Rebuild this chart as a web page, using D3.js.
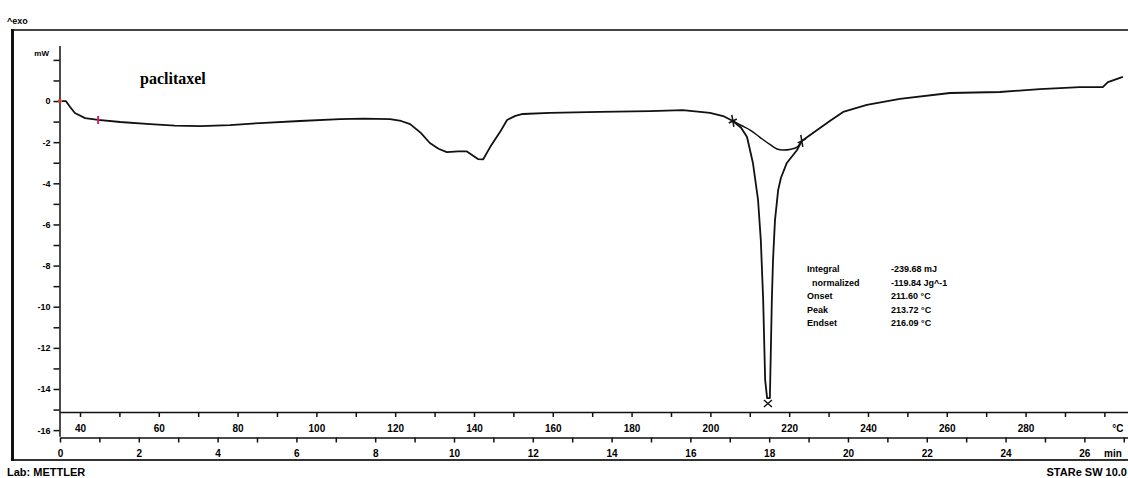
<!DOCTYPE html>
<html>
<head>
<meta charset="utf-8">
<script src="https://cdn.jsdelivr.net/npm/d3@7"></script>
<style>
  body { margin: 0; background: #fff; }
  text { font-family: "Liberation Sans", Arial, sans-serif; }
</style>
</head>
<body>
<div id="dsc_div"></div>
<script>
// DSC curve (temperature in °C, heat flow in mW)
var tempC = [35.4, 36.4, 37.5, 38.7, 41.3, 44.6, 50.2, 57.8, 64.1, 70.5, 78.1, 85.7, 95.8, 106.0, 112.0, 118.7,
  121.5, 123.8, 126.5, 128.8, 131.0, 133.1, 136.0, 138.2, 141.0, 142.3, 144.1, 146.6, 148.4, 150.5, 152.4, 159.3,
  172.0, 184.7, 193.0, 199.9, 203.5, 205.7, 207.8, 209.3, 210.8, 212.1, 212.8, 213.4, 213.9, 214.4, 215.1, 215.4,
  215.6, 215.9, 216.4, 217.2, 217.9, 219.4, 222.0, 223.2, 227.1, 230.5, 233.7, 239.7, 248.1, 260.8, 273.5, 283.6,
  293.8, 299.6, 300.9, 304.7];
var heatFlow = [0.0, 0.0, -0.29, -0.58, -0.83, -0.92, -1.02, -1.12, -1.2, -1.22, -1.17, -1.07, -0.97, -0.88, -0.86, -0.88,
  -0.97, -1.12, -1.55, -2.04, -2.32, -2.48, -2.45, -2.45, -2.82, -2.84, -2.24, -1.51, -0.92, -0.72, -0.63, -0.58,
  -0.53, -0.49, -0.44, -0.58, -0.75, -0.97, -1.3, -1.75, -3.01, -4.81, -6.76, -9.67, -13.56, -14.44, -14.44, -11.62,
  -9.67, -7.73, -5.79, -4.33, -3.74, -3.01, -2.38, -1.94, -1.41, -0.95, -0.53, -0.19, 0.10, 0.39, 0.44, 0.58,
  0.68, 0.68, 0.92, 1.17];

// integration baseline under the melting peak
var baseT = [205.7, 208.0, 210.1, 212.5, 215.0, 216.9, 218.4, 220.5, 222.0, 223.2];
var baseHF = [-0.97, -1.2, -1.41, -1.75, -2.1, -2.33, -2.38, -2.34, -2.24, -1.94];

// axis ticks
var tempTicks = d3.range(40, 301, 10);
var tempLabels = [40, 60, 80, 100, 120, 140, 160, 180, 200, 220, 240, 260, 280];
var minTicks = d3.range(0, 28, 1);
var minLabels = [0, 2, 4, 6, 8, 10, 12, 14, 16, 18, 20, 22, 24, 26];
var hfTicks = d3.range(2, -17, -1);
var hfLabels = [0, -2, -4, -6, -8, -10, -12, -14, -16];

// evaluation text
var evalNames = ["Integral", "  normalized", "Onset", "Peak", "Endset"];
var evalValues = ["-239.68 mJ", "-119.84 Jg^-1", "211.60 °C", "213.72 °C", "216.09 °C"];

var W = 1128, H = 478;
var svg = d3.select("#dsc_div").append("svg")
  .attr("width", W).attr("height", H);

// scales
var x = d3.scaleLinear().domain([34.8, 306.2]).range([59.5, 1128.8]);
var y = d3.scaleLinear().domain([2.7, -16.3]).range([45.5, 436.3]);
var t = d3.scaleLinear().domain([0, 27.1]).range([60, 1127.7]);

// frame
svg.append("line").attr("x1", 12).attr("x2", W).attr("y1", 30).attr("y2", 30)
  .attr("stroke", "#444").attr("stroke-width", 2);
svg.append("line").attr("x1", 12).attr("x2", W).attr("y1", 460).attr("y2", 460)
  .attr("stroke", "#333").attr("stroke-width", 2);
svg.append("line").attr("x1", 12.5).attr("x2", 12.5).attr("y1", 29).attr("y2", 461)
  .attr("stroke", "#111").attr("stroke-width", 3);

// y axis
var yAxis = svg.append("g")
  .attr("transform", "translate(59.5,0)")
  .call(d3.axisLeft(y).tickValues(hfTicks).tickSize(6).tickSizeOuter(0).tickPadding(3)
    .tickFormat(function(d) { return hfLabels.indexOf(d) >= 0 ? d : ""; }));
yAxis.selectAll("text").attr("font-size", 9).attr("font-weight", "bold");
svg.append("text").attr("x", 49).attr("y", 56).attr("text-anchor", "end")
  .attr("font-size", 8).attr("font-weight", "bold").text("mW");

// temperature axis
var xAxis = svg.append("g")
  .attr("transform", "translate(0,412)")
  .call(d3.axisBottom(x).tickValues(tempTicks).tickSize(5).tickSizeOuter(0).tickPadding(8)
    .tickFormat(function(d) { return tempLabels.indexOf(d) >= 0 ? d : (d === 300 ? "°C" : ""); }));
xAxis.selectAll("text").attr("font-size", 10).attr("font-weight", "bold");
xAxis.selectAll("text").filter(function(d) { return d === 300; }).attr("x", 13);

// minutes axis
var tAxis = svg.append("g")
  .attr("transform", "translate(0,437.5)")
  .call(d3.axisBottom(t).tickValues(minTicks).tickSize(5).tickSizeOuter(0).tickPadding(7)
    .tickFormat(function(d) { return minLabels.indexOf(d) >= 0 ? d : ""; }));
tAxis.selectAll("text").attr("font-size", 10).attr("font-weight", "bold");
svg.append("text").attr("x", 1113).attr("y", 457).attr("text-anchor", "middle")
  .attr("font-size", 10).attr("font-weight", "bold").text("min");

svg.selectAll(".domain").attr("stroke", "#111").attr("stroke-width", 1.5);
svg.selectAll(".tick line").attr("stroke", "#111").attr("stroke-width", 1.5);

// curves
var line = d3.line().x(function(d) { return x(d[0]); }).y(function(d) { return y(d[1]); });
svg.append("path")
  .datum(d3.zip(baseT, baseHF))
  .attr("fill", "none").attr("stroke", "#111").attr("stroke-width", 1.5)
  .attr("d", line.curve(d3.curveMonotoneX));
svg.append("path")
  .datum(d3.zip(tempC, heatFlow))
  .attr("fill", "none").attr("stroke", "#111").attr("stroke-width", 1.8)
  .attr("stroke-linejoin", "round")
  .attr("d", line.curve(d3.curveLinear));

// markers
svg.append("circle").attr("cx", x(tempC[0]) - 2).attr("cy", y(0)).attr("r", 2).attr("fill", "#d04020");
svg.append("line").attr("x1", x(44.6)).attr("x2", x(44.6)).attr("y1", y(-0.92) - 4).attr("y2", y(-0.92) + 4)
  .attr("stroke", "#d0206a").attr("stroke-width", 2);
[[baseT[0], baseHF[0]], [baseT[baseT.length - 1], baseHF[baseHF.length - 1]]].forEach(function(p) {
  var cx = x(p[0]), cy = y(p[1]);
  svg.append("path").attr("d", "M" + (cx - 1) + "," + (cy - 6) + "L" + (cx + 1) + "," + (cy + 6) +
      "M" + (cx - 4) + "," + (cy + 2) + "L" + (cx + 4) + "," + (cy - 2))
    .attr("stroke", "#111").attr("stroke-width", 1.5);
});
var pk = x(214.6), pky = y(-14.44) + 2;
svg.append("path").attr("d", "M" + (pk - 4) + "," + pky + "L" + (pk + 4) + "," + (pky + 7) +
    "M" + (pk + 4) + "," + pky + "L" + (pk - 4) + "," + (pky + 7))
  .attr("stroke", "#111").attr("stroke-width", 1.4);

// evaluation table
evalNames.forEach(function(n, i) {
  svg.append("text").attr("x", 807).attr("y", 272 + i * 13.5)
    .attr("font-size", 9).attr("font-weight", "bold").attr("xml:space", "preserve").text(n);
  svg.append("text").attr("x", 891).attr("y", 272 + i * 13.5)
    .attr("font-size", 9).attr("font-weight", "bold").text(evalValues[i]);
});

// labels
svg.append("text").attr("x", 140).attr("y", 84)
  .style("font-family", "'Liberation Serif', 'Times New Roman', serif")
  .attr("font-size", 16).attr("font-weight", "bold").text("paclitaxel");
svg.append("text").attr("x", 7).attr("y", 24)
  .attr("font-size", 9).attr("font-weight", "bold").text("^exo");
svg.append("text").attr("x", 7).attr("y", 476)
  .attr("font-size", 11).attr("font-weight", "bold").text("Lab: METTLER");
svg.append("text").attr("x", 1127).attr("y", 476).attr("text-anchor", "end")
  .attr("font-size", 11).attr("font-weight", "bold").text("STARe SW 10.0");
</script>
</body>
</html>
